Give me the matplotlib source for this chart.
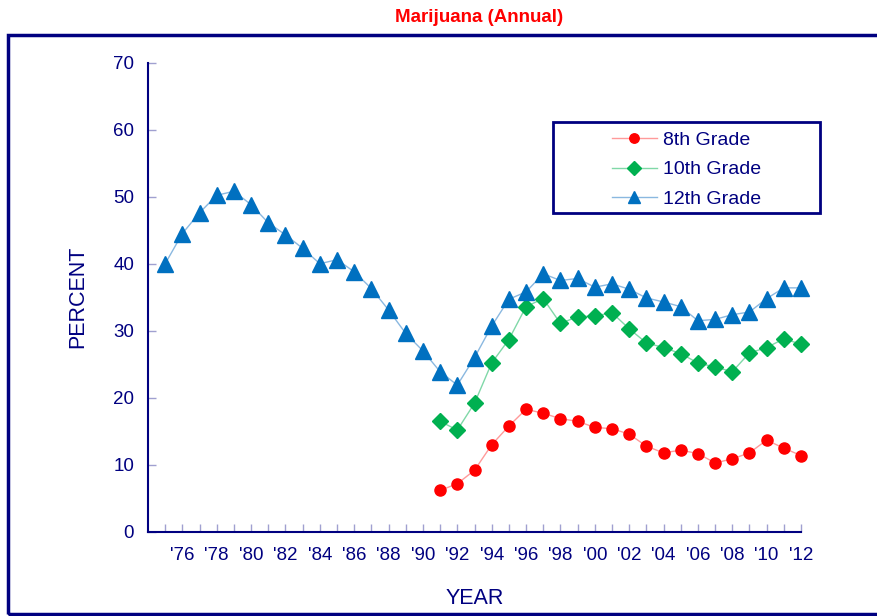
import numpy as np
import matplotlib
matplotlib.use('Agg')
import matplotlib.pyplot as plt
from matplotlib.patches import Rectangle

# Annual marijuana use, percent
years_12 = list(range(1975, 2013))
grade12 = [40.0, 44.5, 47.6, 50.2, 50.8, 48.8, 46.1, 44.3, 42.3, 40.0,
           40.6, 38.8, 36.3, 33.1, 29.6, 27.0, 23.9, 21.9, 26.0, 30.7,
           34.7, 35.8, 38.5, 37.5, 37.8, 36.5, 37.0, 36.2, 34.9, 34.3,
           33.6, 31.5, 31.7, 32.4, 32.8, 34.8, 36.4, 36.4]
years_8_10 = list(range(1991, 2013))
grade10 = [16.5, 15.2, 19.2, 25.2, 28.7, 33.6, 34.8, 31.1, 32.1, 32.2,
           32.7, 30.3, 28.2, 27.5, 26.6, 25.2, 24.6, 23.9, 26.7, 27.5,
           28.8, 28.0]
grade8 = [6.2, 7.2, 9.2, 13.0, 15.8, 18.3, 17.7, 16.9, 16.5, 15.6,
          15.4, 14.6, 12.8, 11.8, 12.2, 11.7, 10.3, 10.9, 11.8, 13.7,
          12.5, 11.4]
tick_years = list(range(1976, 2013, 2))
tick_labels = ["'%02d" % (y % 100) for y in tick_years]

navy = '#000080'
font = ['Liberation Sans', 'DejaVu Sans']

fig = plt.figure(figsize=(8.78, 6.16), dpi=100)
ax = fig.add_axes([148/878, 1-532/616, 653/878, 469.5/616])

ax.plot(years_8_10, grade8, color='#ff9a9a', lw=1, marker='o', ms=8,
        mfc='#ff0000', mec='#ff0000', label='8th Grade', clip_on=False)
ax.plot(years_8_10, grade10, color='#80d8a8', lw=1, marker='D', ms=8,
        mfc='#00b050', mec='#00b050', label='10th Grade', clip_on=False)
ax.plot(years_12, grade12, color='#8ab8e0', lw=1, marker='^', ms=11,
        mfc='#0070c0', mec='#0070c0', label='12th Grade', clip_on=False)

ax.set_xlim(1974, 2012)
ax.set_ylim(0, 70)
ax.set_yticks(range(0, 71, 10))
ax.set_xticks(tick_years)
ax.set_xticklabels(tick_labels)
ax.set_xticks(years_12, minor=True)

for s in ['top', 'right']:
    ax.spines[s].set_visible(False)
for s in ['left', 'bottom']:
    ax.spines[s].set_color(navy)
    ax.spines[s].set_linewidth(1.5)

ax.tick_params(which='both', direction='in', color='#a0a0d0', length=6, width=1)
ax.tick_params(axis='x', which='major', pad=11)
ax.tick_params(axis='y', pad=10)
for lab in ax.get_xticklabels() + ax.get_yticklabels():
    lab.set_family(font)
    lab.set_fontsize(13.5)
    lab.set_color(navy)

ax.set_xlabel('YEAR', family=font, fontsize=15.5, color=navy, labelpad=17)
ax.set_ylabel('PERCENT', family=font, fontsize=15.5, color=navy, labelpad=18)

# legend: entries without frame, box drawn separately
leg = ax.legend(loc='upper left', bbox_to_anchor=((612-148)/653, 0.853), prop={'family': font, 'size': 14},
                handlelength=2.3, handletextpad=0.3, labelspacing=0.6, borderpad=0,
                frameon=False, borderaxespad=0, markerscale=0.85)
for t in leg.get_texts():
    t.set_color(navy)
ax.add_patch(Rectangle(((553-148)/653, (532-213)/469.5), (820-553)/653, 91/469.5,
                       transform=ax.transAxes, fill=False, edgecolor=navy, lw=2, clip_on=False))

fig.text(479/878, 1-18/616, 'Marijuana (Annual)', ha='center', va='center',
         family=font, weight='bold', fontsize=13.5, color='#ff0000')

fig.patches.append(Rectangle((8/878, 2/616), 1.0, (614-35)/616, transform=fig.transFigure,
                             fill=False, edgecolor=navy, lw=2.5))

fig.savefig('out.png', dpi=100)
